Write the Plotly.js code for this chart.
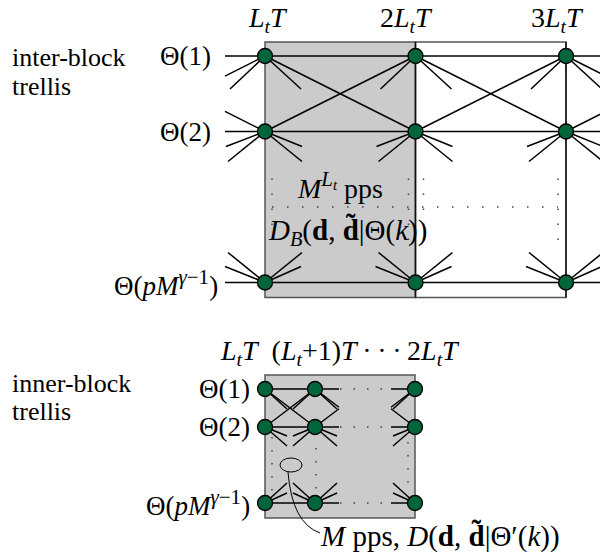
<!DOCTYPE html>
<html><head><meta charset="utf-8">
<script src="https://cdn.plot.ly/plotly-3.0.1.min.js"></script>
<style>html,body{margin:0;padding:0;background:#fff}#chart{width:600px;height:558px}</style>
</head><body><div id="chart"></div>
<script>
// ---------- DATA ----------
// inter-block trellis: block boundaries (multiples of L_t T)
const interBlocks = [1, 2, 3];
const interBlockLabels = ['<i>L</i><sub><i>t</i></sub><i>T</i>', '2<i>L</i><sub><i>t</i></sub><i>T</i>', '3<i>L</i><sub><i>t</i></sub><i>T</i>'];
// state rows (row 3 is the elided one)
const stateRows = [1, 2, 4];
const stateLabels = ['Θ(1)', 'Θ(2)', 'Θ(<i>pM</i><sup><span style="font-size:21px"><i>γ</i>−1</span></sup>)'];
// inner-block trellis: symbol steps inside one block (0 = L_t T, 1 = (L_t+1)T, 3 = 2L_t T)
const innerSteps = [0, 1, 3];
const innerHeader = '<i>L</i><sub><i>t</i></sub><i>T</i>  (<i>L</i><sub><i>t</i></sub>+1)<i>T</i>\u2009·\u2009·\u2009·\u20092<i>L</i><sub><i>t</i></sub><i>T</i>';
// allowed transitions between consecutive columns [fromRowIdx, toRowIdx]
const transitions = [[0, 0], [1, 1], [2, 2], [0, 1], [1, 0]];
const sectionTitles = ['inter-block', 'trellis', 'inner-block', 'trellis'];
const interText = ['<i>M</i><sup><span style="font-size:21px"><i>L</i><sub><i>t</i></sub></span></sup> pps', '<i>D</i><sub><i>B</i></sub>(<b>d</b>, <b>d̃</b>|Θ(<i>k</i>))'];
const innerText = '<i>M</i> pps, <i>D</i>(<b>d</b>, <b>d̃</b>|Θ′(<i>k</i>))';

// ---------- GEOMETRY / STYLE ----------
const W = 600, H = 558;
const TOP = {col0: 265, ux: 150.5, row0: 56, uy: 75.5, firstCol: 1, firstRow: 1};
const BOT = {col0: 265, ux: 50, row0: 389, uy: 38, firstCol: 0, firstRow: 1};
const xr = g => [g.firstCol - g.col0 / g.ux, g.firstCol + (W - g.col0) / g.ux];
const yr = g => [g.firstRow + (H - g.row0) / g.uy, g.firstRow - g.row0 / g.uy];
const FONT = 'Liberation Serif, Times New Roman, serif';
const GREEN = '#00653a';

function seg(a, p, q) { a.x.push(p[0], q[0], null); a.y.push(p[1], q[1], null); }

// stub offsets in pixels, per row index
const topOut = [[[36, 33]], [[37, 15], [37, 30]], [[37, -30], [36, -16]]];
const topIn = [[[-35, 33]], [[-39, 15], [-37, 30]], [[-37, -30], [-40, -16]]];
const botOut = [[[22, 20]], [[22, 9], [22, 19]], [[22, -20], [22, -10]]];
const botIn = [[[-22, 20]], [[-22, 9], [-22, 19]], [[-22, -20], [-22, -10]]];

// ---------- TOP EDGES ----------
const topE = {x: [], y: []};
const colsExt = [...interBlocks, interBlocks[interBlocks.length - 1] + 1];
for (let i = 0; i < colsExt.length - 1; i++)
  for (const [a, b] of transitions) seg(topE, [colsExt[i], stateRows[a]], [colsExt[i + 1], stateRows[b]]);
{ const s = 40 / TOP.ux, x1 = interBlocks[0];
  for (const [a, b] of transitions) seg(topE, [x1 - s, stateRows[b] + (stateRows[a] - stateRows[b]) * s], [x1, stateRows[b]]); }
for (const c of interBlocks) stateRows.forEach((r, ri) => {
  for (const [dx, dy] of topOut[ri]) seg(topE, [c, r], [c + dx / TOP.ux, r + dy / TOP.uy]);
  for (const [dx, dy] of topIn[ri]) seg(topE, [c + dx / TOP.ux, r + dy / TOP.uy], [c, r]);
});

// ---------- BOTTOM EDGES ----------
const botE = {x: [], y: []};
for (const [a, b] of transitions) seg(botE, [innerSteps[0], stateRows[a]], [innerSteps[1], stateRows[b]]);
{ const s = 24 / BOT.ux, xa = innerSteps[1], xb = innerSteps[2];
  for (const [a, b] of transitions) {
    seg(botE, [xa, stateRows[a]], [xa + s, stateRows[a] + (stateRows[b] - stateRows[a]) * s]);
    seg(botE, [xb - s, stateRows[b] + (stateRows[a] - stateRows[b]) * s], [xb, stateRows[b]]);
  } }
stateRows.forEach((r, ri) => {
  for (const c of innerSteps.slice(0, 2)) for (const [dx, dy] of botOut[ri]) seg(botE, [c, r], [c + dx / BOT.ux, r + dy / BOT.uy]);
  for (const c of innerSteps.slice(1)) for (const [dx, dy] of botIn[ri]) seg(botE, [c + dx / BOT.ux, r + dy / BOT.uy], [c, r]);
});

// ---------- DOTTED LINES ----------
const topDot = {x: [], y: []};
{ const px = p => p / TOP.ux, py = p => p / TOP.uy;
  const c1 = interBlocks[0], c2 = interBlocks[1], c3 = interBlocks[2];
  const ya = stateRows[1] + py(47), yb = stateRows[2] - py(31);
  for (const x of [c1 + px(7), c2 - px(7), c2 + px(8), c3 - px(8)]) seg(topDot, [x, ya], [x, yb]);
  seg(topDot, [c1 + px(7), 3], [c3 - px(8), 3]); }
const botDotH = {x: [], y: []}, botDotV = {x: [], y: []};
{ const px = p => p / BOT.ux, py = p => p / BOT.uy;
  const c0 = innerSteps[0], c1 = innerSteps[1], c3 = innerSteps[2];
  for (const r of stateRows) seg(botDotH, [c1 + px(25), r], [c3 - px(29), r]);
  const yb = stateRows[2] - py(12);
  seg(botDotV, [c0 + px(7), stateRows[1] + py(10)], [c0 + px(7), yb]);
  seg(botDotV, [c1 + px(1), stateRows[1] + py(21)], [c1 + px(1), yb]);
  seg(botDotV, [c3 - px(7), stateRows[1] + py(15)], [c3 - px(7), yb]); }

// ---------- NODES ----------
const topN = {x: [], y: []}, botN = {x: [], y: []};
for (const c of interBlocks) for (const r of stateRows) { topN.x.push(c); topN.y.push(r); }
for (const c of innerSteps) for (const r of stateRows) { botN.x.push(c); botN.y.push(r); }

const lineT = (e, xa, ya, w, dash, col) => ({type: 'scatter', mode: 'lines', x: e.x, y: e.y, xaxis: xa, yaxis: ya,
  line: {color: col || '#000', width: w, dash: dash || 'solid'}, hoverinfo: 'skip', showlegend: false, connectgaps: false});
const nodeT = (n, xa, ya) => ({type: 'scatter', mode: 'markers', x: n.x, y: n.y, xaxis: xa, yaxis: ya,
  marker: {size: 15, color: GREEN, line: {color: '#000', width: 1.3}}, hoverinfo: 'skip', showlegend: false, cliponaxis: false});

const data = [
  lineT(topDot, 'x', 'y', 1.5, '1.5px,13.5px', '#444'),
  lineT(botDotH, 'x2', 'y2', 1.5, '1.5px,12px', '#444'),
  lineT(botDotV, 'x2', 'y2', 1.5, '1.5px,11.5px', '#444'),
  lineT(topE, 'x', 'y', 1.5),
  lineT(botE, 'x2', 'y2', 1.5),
  nodeT(topN, 'x', 'y'),
  nodeT(botN, 'x2', 'y2')
];

// ---------- SHAPES ----------
const tTop = stateRows[0] - 14 / TOP.uy, tBot = stateRows[2] + 15 / TOP.uy;
const bTop = stateRows[0] - 14 / BOT.uy, bBot = stateRows[2] + 15 / BOT.uy;
const shapes = [
  {type: 'rect', xref: 'x', yref: 'y', x0: interBlocks[0], x1: interBlocks[1], y0: tTop, y1: tBot, fillcolor: '#cbcbcb', line: {color: '#555', width: 1.5}, layer: 'below'},
  {type: 'rect', xref: 'x', yref: 'y', x0: interBlocks[1], x1: interBlocks[2], y0: tTop, y1: tBot, fillcolor: '#fff', line: {color: '#555', width: 1.5}, layer: 'below'},
  {type: 'line', xref: 'x', yref: 'y', x0: interBlocks[1], x1: interBlocks[1], y0: tTop, y1: tBot, line: {color: '#111', width: 1.5}, layer: 'below'},
  {type: 'line', xref: 'x', yref: 'y', x0: interBlocks[2], x1: interBlocks[2], y0: tTop, y1: tBot, line: {color: '#111', width: 1.5}, layer: 'below'},
  {type: 'rect', xref: 'x2', yref: 'y2', x0: innerSteps[0], x1: innerSteps[2], y0: bTop, y1: bBot, fillcolor: '#cbcbcb', line: {color: '#555', width: 1.5}, layer: 'below'},
  {type: 'circle', xref: 'x2', yref: 'y2', x0: 0.52 - 11 / BOT.ux, x1: 0.52 + 11 / BOT.ux, y0: 3 - 7 / BOT.uy, y1: 3 + 7 / BOT.uy, line: {color: '#000', width: 1}},
  {type: 'path', xref: 'x2', yref: 'y2', path: `M ${(288 - 265) / 50} ${1 + 83 / 38} Q ${(292 - 265) / 50} ${1 + 134 / 38} ${(320 - 265) / 50} ${1 + 144 / 38}`, line: {color: '#000', width: 1}}
];

// ---------- ANNOTATIONS ----------
const A = (o, size) => Object.assign({showarrow: false, font: {family: FONT, size: size || 26, color: '#000'}}, o);
const pxX = p => p / W, pxY = p => 1 - p / H;
const ann = [];
ann.push(A({xref: 'paper', yref: 'paper', x: pxX(10), y: pxY(57), xanchor: 'left', yanchor: 'middle', text: sectionTitles[0]}, 26));
ann.push(A({xref: 'paper', yref: 'paper', x: pxX(10), y: pxY(87), xanchor: 'left', yanchor: 'middle', text: sectionTitles[1]}, 26));
ann.push(A({xref: 'paper', yref: 'paper', x: pxX(10), y: pxY(383), xanchor: 'left', yanchor: 'middle', text: sectionTitles[2]}, 26));
ann.push(A({xref: 'paper', yref: 'paper', x: pxX(10), y: pxY(411), xanchor: 'left', yanchor: 'middle', text: sectionTitles[3]}, 26));
const colShift = [3, -9, -9];
interBlocks.forEach((c, i) => ann.push(A({xref: 'x', yref: 'paper', x: c, y: pxY(19), xshift: colShift[i], xanchor: 'center', yanchor: 'middle', text: interBlockLabels[i]}, 28)));
const topLabShift = [-52, -52, -45];
stateRows.forEach((r, i) => ann.push(A({xref: 'x', yref: 'y', x: interBlocks[0], y: r, xshift: topLabShift[i], xanchor: 'right', yanchor: 'middle', text: stateLabels[i]}, 27)));
stateRows.forEach((r, i) => ann.push(A({xref: 'x2', yref: 'y2', x: innerSteps[0], y: r, xshift: -13, xanchor: 'right', yanchor: 'middle', text: stateLabels[i]}, 27)));
ann.push(A({xref: 'paper', yref: 'paper', x: pxX(340), y: pxY(186), xanchor: 'center', yanchor: 'middle', text: interText[0]}, 28));
ann.push(A({xref: 'paper', yref: 'paper', x: pxX(347), y: pxY(232), xanchor: 'center', yanchor: 'middle', text: interText[1]}, 29));
ann.push(A({xref: 'paper', yref: 'paper', x: pxX(340), y: pxY(352), xanchor: 'center', yanchor: 'middle', text: innerHeader}, 28));
ann.push(A({xref: 'paper', yref: 'paper', x: pxX(318), y: pxY(536), xanchor: 'left', yanchor: 'middle', text: innerText}, 29));

const ax = (r, extra) => Object.assign({range: r, visible: false, showgrid: false, zeroline: false, fixedrange: true}, extra || {});
const layout = {
  width: W, height: H, margin: {l: 0, r: 0, t: 0, b: 0}, paper_bgcolor: '#fff', plot_bgcolor: 'rgba(0,0,0,0)',
  showlegend: false,
  xaxis: ax(xr(TOP), {domain: [0, 1]}), yaxis: ax(yr(TOP), {domain: [0, 1]}),
  xaxis2: ax(xr(BOT), {overlaying: 'x', anchor: 'y2'}), yaxis2: ax(yr(BOT), {overlaying: 'y', anchor: 'x2'}),
  shapes: shapes, annotations: ann
};
Plotly.newPlot('chart', data, layout, {staticPlot: true, displayModeBar: false});
</script></body></html>
